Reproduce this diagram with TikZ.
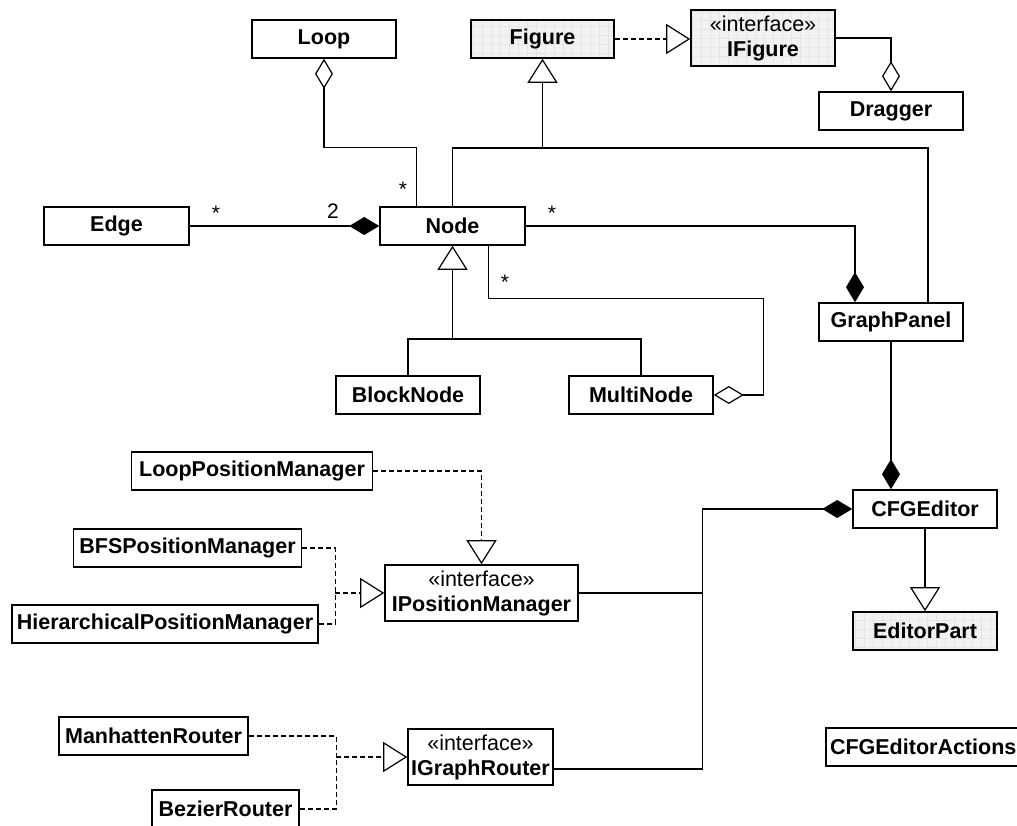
\documentclass[tikz,border=0pt]{standalone}
\usepackage{fontspec}
\setmainfont{Liberation Sans}
\usetikzlibrary{arrows.meta}
\begin{document}
\begin{tikzpicture}[x=1pt,y=-1pt,
  cls/.style={draw, line width=1.6pt, fill=white, minimum height=38pt, inner sep=0pt,
    font=\fontsize{21.5}{25}\selectfont\bfseries, align=center},
  iface/.style={cls, minimum height=56pt},
  grayfill/.style={fill=black!5, path picture={\draw[black!10, line width=0.4pt, step=9pt]
    (path picture bounding box.south west) grid (path picture bounding box.north east);}},
  conn/.style={line width=1.2pt},
  agg/.style={conn, -{Diamond[open, length=30pt, width=18pt]}},
  comp/.style={conn, -{Diamond[length=30pt, width=18pt]}},
  gen/.style={conn, -{Triangle[open, length=24pt, width=30pt]}},
  dsh/.style={conn, dash pattern=on 5pt off 3pt},
  real/.style={dsh, -{Triangle[open, length=24pt, width=30pt]}},
  lbl/.style={font=\fontsize{21}{24}\selectfont, inner sep=0pt}
]
\useasboundingbox (0,0) rectangle (1017,826);
\clip (0,0) rectangle (1017,826);
\newcommand{\st}{{\mdseries\guillemotleft interface\guillemotright}\\}

\node[cls, minimum width=144pt] (loop) at (324,39) {Loop};
\node[cls, grayfill, minimum width=143pt] (figure) at (542.5,39) {Figure};
\node[iface, grayfill, minimum width=144pt] (ifigure) at (763,38) {\st IFigure\vphantom{p}};
\node[cls, minimum width=144pt] (dragger) at (891,111) {Dragger};
\node[cls, minimum width=145pt] (edge) at (116.5,226) {Edge};
\node[cls, minimum width=145pt] (node) at (452.5,226) {Node};
\node[cls, minimum width=144pt] (graphpanel) at (891,322) {GraphPanel};
\node[cls, minimum width=144pt] (blocknode) at (408,395) {BlockNode};
\node[cls, minimum width=144pt] (multinode) at (641,395) {MultiNode};
\node[cls, minimum width=241pt] (looppm) at (252,471) {LoopPositionManager};
\node[cls, minimum width=228pt] (bfspm) at (187.5,548) {BFSPositionManager};
\node[cls, minimum width=306pt] (hierpm) at (165,624) {HierarchicalPositionManager};
\node[iface, minimum width=193pt] (ipm) at (481.5,593) {\st IPositionManager};
\node[cls, minimum width=144pt] (cfgeditor) at (925,509) {CFGEditor};
\node[cls, grayfill, minimum width=144pt] (editorpart) at (925,631) {EditorPart};
\node[cls, minimum width=189pt] (manh) at (153.5,736) {ManhattenRouter};
\node[cls, minimum width=147pt] (bez) at (225.5,809) {BezierRouter};
\node[iface, minimum width=145pt] (igr) at (480.5,757) {\st IGraphRouter};
\node[cls, minimum width=200pt, text width=192pt, align=left] (actions) at (926,747) {CFGEditorActions};

% Loop -- Node
\draw[agg] ([xshift=-36pt]node.north) -- ++(0,-59) -| (loop.south);
\node[lbl] at (403,189) {*};
% generalization Figure
\coordinate (fj) at (figure.south |- 0,148);
\draw[gen] (node.north) |- (fj) -- (figure.south);
\draw[conn] ([xshift=37pt]graphpanel.north) |- (fj);
% realization IFigure
\draw[real] (figure.east) -- (ifigure.west |- figure.east);
% IFigure -- Dragger
\draw[agg] (ifigure.east) -| (dragger.north);
% Edge -- Node
\draw[comp] (edge.east) -- (node.west);
\node[lbl] at (216,213) {*};
\node[lbl] at (333,211) {2};
% Node -- GraphPanel
\draw[comp] (node.east) -| ([xshift=-36pt]graphpanel.north);
\node[lbl] at (552,213) {*};
% Node generalization
\coordinate (nj) at (node.south |- 0,339);
\draw[gen] (blocknode.north) |- (nj) -- (node.south);
\draw[conn] (multinode.north) |- (nj);
% Node -- MultiNode
\draw[agg] ([xshift=36pt]node.south) -- ++(0,53) -| ([xshift=50pt]multinode.east) -- (multinode.east);
\node[lbl] at (505,282) {*};
% GraphPanel -- CFGEditor
\draw[comp] (graphpanel.south) -- (graphpanel.south |- cfgeditor.north);
% CFGEditor -- EditorPart
\draw[gen] (cfgeditor.south) -- (editorpart.north);
% CFGEditor composition
\coordinate (cj) at ([xshift=-150pt]cfgeditor.west);
\draw[comp] ([yshift=-12pt]igr.east) -| (cj) -- (cfgeditor.west);
\draw[conn] (ipm.east) -- (ipm.east -| cj);
% position managers
\draw[real] (looppm.east) -| (ipm.north);
\coordinate (bj) at ([xshift=-49pt]ipm.west);
\draw[dsh] (bfspm.east) -| (bj);
\draw[dsh] (hierpm.east) -| (bj);
\draw[real] (bj) -- (ipm.west);
% routers
\coordinate (mj) at ([xshift=-71pt]igr.west);
\draw[dsh] (manh.east) -| (mj);
\draw[dsh] (bez.east) -| (mj);
\draw[real] (mj) -- (igr.west);
\end{tikzpicture}
\end{document}
